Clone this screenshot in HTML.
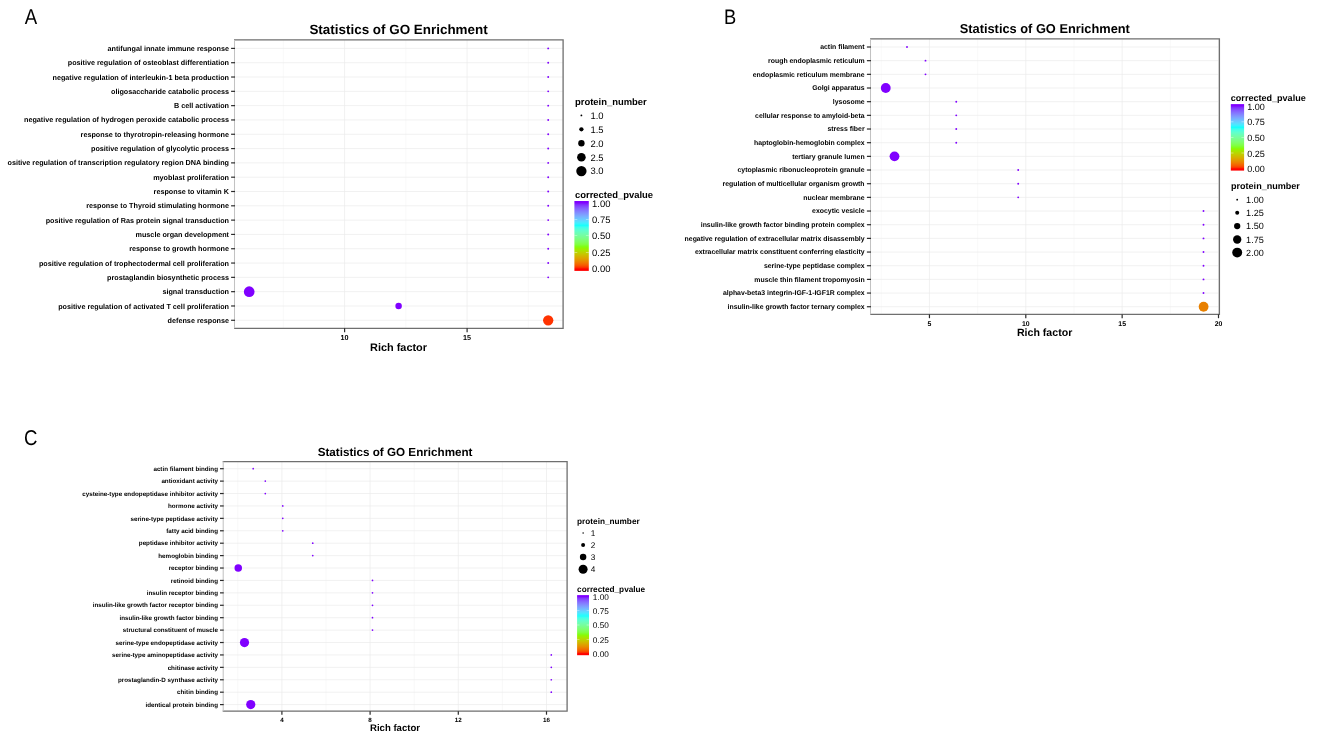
<!DOCTYPE html>
<html lang="en"><head><meta charset="utf-8"><title>Statistics of GO Enrichment</title>
<style>
html,body{margin:0;padding:0;background:#fff;}
body{width:1319px;height:748px;overflow:hidden;}
svg{display:block;filter:blur(0.32px);}
text{font-family:"Liberation Sans",Arial,Helvetica,sans-serif;fill:#000;text-rendering:geometricPrecision;}
.b{font-weight:bold;}
.ax{font-weight:bold;}
.lg{fill:#000;}
</style></head><body>
<svg width="1319" height="748" viewBox="0 0 1319 748">
<defs>
<linearGradient id="rb" x1="0" y1="1" x2="0" y2="0">
<stop offset="0.0000" stop-color="#FF0000"/>
<stop offset="0.0417" stop-color="#F85000"/>
<stop offset="0.0833" stop-color="#F07300"/>
<stop offset="0.1250" stop-color="#E69000"/>
<stop offset="0.1667" stop-color="#DAA800"/>
<stop offset="0.2083" stop-color="#CBBF00"/>
<stop offset="0.2500" stop-color="#B9D500"/>
<stop offset="0.2917" stop-color="#A1EA00"/>
<stop offset="0.3333" stop-color="#80FF00"/>
<stop offset="0.3750" stop-color="#81FF44"/>
<stop offset="0.4167" stop-color="#7FFF66"/>
<stop offset="0.4583" stop-color="#7CFE82"/>
<stop offset="0.5000" stop-color="#76FE9C"/>
<stop offset="0.5417" stop-color="#6DFEB5"/>
<stop offset="0.5833" stop-color="#5EFFCE"/>
<stop offset="0.6250" stop-color="#47FFE7"/>
<stop offset="0.6667" stop-color="#00FFFF"/>
<stop offset="0.7083" stop-color="#4EE6FF"/>
<stop offset="0.7500" stop-color="#67CEFF"/>
<stop offset="0.7917" stop-color="#76B5FF"/>
<stop offset="0.8333" stop-color="#7F9BFF"/>
<stop offset="0.8750" stop-color="#8381FF"/>
<stop offset="0.9167" stop-color="#8564FF"/>
<stop offset="0.9583" stop-color="#8443FF"/>
<stop offset="1.0000" stop-color="#8000FF"/>
</linearGradient></defs>
<rect x="0" y="0" width="1319" height="748" fill="#fff"/>
<g id="panelA">
<text transform="translate(24.80,23.80) scale(0.87,1)" font-size="21.4">A</text>
<text class="b" x="398.55" y="33.70" font-size="13.43" text-anchor="middle">Statistics of GO Enrichment</text>
<line x1="283.35" y1="39.90" x2="283.35" y2="328.30" stroke="#f7f7f7" stroke-width="0.7"/><line x1="405.85" y1="39.90" x2="405.85" y2="328.30" stroke="#f7f7f7" stroke-width="0.7"/><line x1="528.35" y1="39.90" x2="528.35" y2="328.30" stroke="#f7f7f7" stroke-width="0.7"/><line x1="234.50" y1="48.40" x2="563.10" y2="48.40" stroke="#ebebeb" stroke-width="0.7"/><line x1="234.50" y1="62.71" x2="563.10" y2="62.71" stroke="#ebebeb" stroke-width="0.7"/><line x1="234.50" y1="77.02" x2="563.10" y2="77.02" stroke="#ebebeb" stroke-width="0.7"/><line x1="234.50" y1="91.33" x2="563.10" y2="91.33" stroke="#ebebeb" stroke-width="0.7"/><line x1="234.50" y1="105.64" x2="563.10" y2="105.64" stroke="#ebebeb" stroke-width="0.7"/><line x1="234.50" y1="119.95" x2="563.10" y2="119.95" stroke="#ebebeb" stroke-width="0.7"/><line x1="234.50" y1="134.26" x2="563.10" y2="134.26" stroke="#ebebeb" stroke-width="0.7"/><line x1="234.50" y1="148.57" x2="563.10" y2="148.57" stroke="#ebebeb" stroke-width="0.7"/><line x1="234.50" y1="162.88" x2="563.10" y2="162.88" stroke="#ebebeb" stroke-width="0.7"/><line x1="234.50" y1="177.19" x2="563.10" y2="177.19" stroke="#ebebeb" stroke-width="0.7"/><line x1="234.50" y1="191.50" x2="563.10" y2="191.50" stroke="#ebebeb" stroke-width="0.7"/><line x1="234.50" y1="205.81" x2="563.10" y2="205.81" stroke="#ebebeb" stroke-width="0.7"/><line x1="234.50" y1="220.12" x2="563.10" y2="220.12" stroke="#ebebeb" stroke-width="0.7"/><line x1="234.50" y1="234.43" x2="563.10" y2="234.43" stroke="#ebebeb" stroke-width="0.7"/><line x1="234.50" y1="248.74" x2="563.10" y2="248.74" stroke="#ebebeb" stroke-width="0.7"/><line x1="234.50" y1="263.05" x2="563.10" y2="263.05" stroke="#ebebeb" stroke-width="0.7"/><line x1="234.50" y1="277.36" x2="563.10" y2="277.36" stroke="#ebebeb" stroke-width="0.7"/><line x1="234.50" y1="291.67" x2="563.10" y2="291.67" stroke="#ebebeb" stroke-width="0.7"/><line x1="234.50" y1="305.98" x2="563.10" y2="305.98" stroke="#ebebeb" stroke-width="0.7"/><line x1="234.50" y1="320.29" x2="563.10" y2="320.29" stroke="#ebebeb" stroke-width="0.7"/><line x1="344.60" y1="39.90" x2="344.60" y2="328.30" stroke="#ebebeb" stroke-width="0.7"/><line x1="467.10" y1="39.90" x2="467.10" y2="328.30" stroke="#ebebeb" stroke-width="0.7"/>
<circle cx="548.20" cy="48.40" r="0.95" fill="#8000FF"/><circle cx="548.20" cy="62.71" r="0.95" fill="#8000FF"/><circle cx="548.20" cy="77.02" r="0.95" fill="#8000FF"/><circle cx="548.20" cy="91.33" r="0.95" fill="#8000FF"/><circle cx="548.20" cy="105.64" r="0.95" fill="#8000FF"/><circle cx="548.20" cy="119.95" r="0.95" fill="#8000FF"/><circle cx="548.20" cy="134.26" r="0.95" fill="#8000FF"/><circle cx="548.20" cy="148.57" r="0.95" fill="#8000FF"/><circle cx="548.20" cy="162.88" r="0.95" fill="#8000FF"/><circle cx="548.20" cy="177.19" r="0.95" fill="#8000FF"/><circle cx="548.20" cy="191.50" r="0.95" fill="#8000FF"/><circle cx="548.20" cy="205.81" r="0.95" fill="#8000FF"/><circle cx="548.20" cy="220.12" r="0.95" fill="#8000FF"/><circle cx="548.20" cy="234.43" r="0.95" fill="#8000FF"/><circle cx="548.20" cy="248.74" r="0.95" fill="#8000FF"/><circle cx="548.20" cy="263.05" r="0.95" fill="#8000FF"/><circle cx="548.20" cy="277.36" r="0.95" fill="#8000FF"/><circle cx="249.20" cy="291.67" r="5.35" fill="#8000FF"/><circle cx="398.60" cy="305.98" r="3.25" fill="#8000FF"/><circle cx="548.20" cy="320.29" r="5.15" fill="#FF3300"/>
<path d="M234.00 39.90H563.10V328.30H234.00" fill="none" stroke="#6f6f6f" stroke-width="1.3"/>
<line x1="234.50" y1="39.90" x2="234.50" y2="328.30" stroke="#c2c2c2" stroke-width="1.05"/>
<line x1="231.10" y1="48.40" x2="235.00" y2="48.40" stroke="#2a2a2a" stroke-width="1.2"/><text class="ax" x="229.00" y="50.93" font-size="7.22" text-anchor="end">antifungal innate immune response</text><line x1="231.10" y1="62.71" x2="235.00" y2="62.71" stroke="#2a2a2a" stroke-width="1.2"/><text class="ax" x="229.00" y="65.24" font-size="7.22" text-anchor="end">positive regulation of osteoblast differentiation</text><line x1="231.10" y1="77.02" x2="235.00" y2="77.02" stroke="#2a2a2a" stroke-width="1.2"/><text class="ax" x="229.00" y="79.55" font-size="7.22" text-anchor="end">negative regulation of interleukin-1 beta production</text><line x1="231.10" y1="91.33" x2="235.00" y2="91.33" stroke="#2a2a2a" stroke-width="1.2"/><text class="ax" x="229.00" y="93.86" font-size="7.22" text-anchor="end">oligosaccharide catabolic process</text><line x1="231.10" y1="105.64" x2="235.00" y2="105.64" stroke="#2a2a2a" stroke-width="1.2"/><text class="ax" x="229.00" y="108.17" font-size="7.22" text-anchor="end">B cell activation</text><line x1="231.10" y1="119.95" x2="235.00" y2="119.95" stroke="#2a2a2a" stroke-width="1.2"/><text class="ax" x="229.00" y="122.48" font-size="7.22" text-anchor="end">negative regulation of hydrogen peroxide catabolic process</text><line x1="231.10" y1="134.26" x2="235.00" y2="134.26" stroke="#2a2a2a" stroke-width="1.2"/><text class="ax" x="229.00" y="136.79" font-size="7.22" text-anchor="end">response to thyrotropin-releasing hormone</text><line x1="231.10" y1="148.57" x2="235.00" y2="148.57" stroke="#2a2a2a" stroke-width="1.2"/><text class="ax" x="229.00" y="151.10" font-size="7.22" text-anchor="end">positive regulation of glycolytic process</text><line x1="231.10" y1="162.88" x2="235.00" y2="162.88" stroke="#2a2a2a" stroke-width="1.2"/><text class="ax" x="229.00" y="165.41" font-size="7.22" text-anchor="end">ositive regulation of transcription regulatory region DNA binding</text><line x1="231.10" y1="177.19" x2="235.00" y2="177.19" stroke="#2a2a2a" stroke-width="1.2"/><text class="ax" x="229.00" y="179.72" font-size="7.22" text-anchor="end">myoblast proliferation</text><line x1="231.10" y1="191.50" x2="235.00" y2="191.50" stroke="#2a2a2a" stroke-width="1.2"/><text class="ax" x="229.00" y="194.03" font-size="7.22" text-anchor="end">response to vitamin K</text><line x1="231.10" y1="205.81" x2="235.00" y2="205.81" stroke="#2a2a2a" stroke-width="1.2"/><text class="ax" x="229.00" y="208.34" font-size="7.22" text-anchor="end">response to Thyroid stimulating hormone</text><line x1="231.10" y1="220.12" x2="235.00" y2="220.12" stroke="#2a2a2a" stroke-width="1.2"/><text class="ax" x="229.00" y="222.65" font-size="7.22" text-anchor="end">positive regulation of Ras protein signal transduction</text><line x1="231.10" y1="234.43" x2="235.00" y2="234.43" stroke="#2a2a2a" stroke-width="1.2"/><text class="ax" x="229.00" y="236.96" font-size="7.22" text-anchor="end">muscle organ development</text><line x1="231.10" y1="248.74" x2="235.00" y2="248.74" stroke="#2a2a2a" stroke-width="1.2"/><text class="ax" x="229.00" y="251.27" font-size="7.22" text-anchor="end">response to growth hormone</text><line x1="231.10" y1="263.05" x2="235.00" y2="263.05" stroke="#2a2a2a" stroke-width="1.2"/><text class="ax" x="229.00" y="265.58" font-size="7.22" text-anchor="end">positive regulation of trophectodermal cell proliferation</text><line x1="231.10" y1="277.36" x2="235.00" y2="277.36" stroke="#2a2a2a" stroke-width="1.2"/><text class="ax" x="229.00" y="279.89" font-size="7.22" text-anchor="end">prostaglandin biosynthetic process</text><line x1="231.10" y1="291.67" x2="235.00" y2="291.67" stroke="#2a2a2a" stroke-width="1.2"/><text class="ax" x="229.00" y="294.20" font-size="7.22" text-anchor="end">signal transduction</text><line x1="231.10" y1="305.98" x2="235.00" y2="305.98" stroke="#2a2a2a" stroke-width="1.2"/><text class="ax" x="229.00" y="308.51" font-size="7.22" text-anchor="end">positive regulation of activated T cell proliferation</text><line x1="231.10" y1="320.29" x2="235.00" y2="320.29" stroke="#2a2a2a" stroke-width="1.2"/><text class="ax" x="229.00" y="322.82" font-size="7.22" text-anchor="end">defense response</text>
<line x1="344.60" y1="328.30" x2="344.60" y2="332.30" stroke="#2a2a2a" stroke-width="1.2"/><text class="ax" x="344.60" y="340.00" font-size="7.22" text-anchor="middle">10</text><line x1="467.10" y1="328.30" x2="467.10" y2="332.30" stroke="#2a2a2a" stroke-width="1.2"/><text class="ax" x="467.10" y="340.00" font-size="7.22" text-anchor="middle">15</text>
<text class="b" x="398.55" y="351.10" font-size="10.90" text-anchor="middle">Rich factor</text>
<text class="b" x="575.00" y="104.70" font-size="9.43">protein_number</text>
<circle cx="581.40" cy="115.40" r="0.90" fill="#000"/><text x="590.40" y="118.79" font-size="9.43">1.0</text>
<circle cx="581.40" cy="129.30" r="2.15" fill="#000"/><text x="590.40" y="132.69" font-size="9.43">1.5</text>
<circle cx="581.40" cy="143.20" r="3.20" fill="#000"/><text x="590.40" y="146.59" font-size="9.43">2.0</text>
<circle cx="581.40" cy="157.20" r="4.30" fill="#000"/><text x="590.40" y="160.59" font-size="9.43">2.5</text>
<circle cx="581.40" cy="171.10" r="5.15" fill="#000"/><text x="590.40" y="174.49" font-size="9.43">3.0</text>
<text class="b" x="575.00" y="197.60" font-size="9.43">corrected_pvalue</text>
<linearGradient id="rbA" x1="0" y1="0" x2="0" y2="1"><stop offset="0.0000" stop-color="#8000FF"/><stop offset="0.0250" stop-color="#8000FF"/><stop offset="0.0500" stop-color="#822AFF"/><stop offset="0.0750" stop-color="#8446FF"/><stop offset="0.1000" stop-color="#855CFF"/><stop offset="0.1250" stop-color="#856FFF"/><stop offset="0.1500" stop-color="#8381FF"/><stop offset="0.1750" stop-color="#8192FF"/><stop offset="0.2000" stop-color="#7DA3FF"/><stop offset="0.2250" stop-color="#77B3FF"/><stop offset="0.2500" stop-color="#6EC3FF"/><stop offset="0.2750" stop-color="#63D3FF"/><stop offset="0.3000" stop-color="#53E3FF"/><stop offset="0.3250" stop-color="#39F3FF"/><stop offset="0.3500" stop-color="#19FFFB"/><stop offset="0.3750" stop-color="#3FFFEC"/><stop offset="0.4000" stop-color="#52FFDC"/><stop offset="0.4250" stop-color="#60FFCC"/><stop offset="0.4500" stop-color="#69FEBD"/><stop offset="0.4750" stop-color="#71FEAD"/><stop offset="0.5000" stop-color="#76FE9C"/><stop offset="0.5250" stop-color="#7AFE8C"/><stop offset="0.5500" stop-color="#7DFE7A"/><stop offset="0.5750" stop-color="#7FFF68"/><stop offset="0.6000" stop-color="#80FF54"/><stop offset="0.6250" stop-color="#81FF3C"/><stop offset="0.6500" stop-color="#80FF15"/><stop offset="0.6750" stop-color="#92F500"/><stop offset="0.7000" stop-color="#A5E800"/><stop offset="0.7250" stop-color="#B4DA00"/><stop offset="0.7500" stop-color="#C1CC00"/><stop offset="0.7750" stop-color="#CCBE00"/><stop offset="0.8000" stop-color="#D6AF00"/><stop offset="0.8250" stop-color="#DFA000"/><stop offset="0.8500" stop-color="#E69000"/><stop offset="0.8750" stop-color="#ED7E00"/><stop offset="0.9000" stop-color="#F26B00"/><stop offset="0.9250" stop-color="#F85400"/><stop offset="0.9500" stop-color="#FC3400"/><stop offset="0.9750" stop-color="#FF0000"/><stop offset="1.0000" stop-color="#FF0000"/></linearGradient>
<rect x="574.40" y="201.00" width="14.40" height="69.90" fill="url(#rbA)"/>
<text x="592.10" y="207.19" font-size="9.43">1.00</text>
<line x1="574.40" y1="219.40" x2="577.28" y2="219.40" stroke="#fff" stroke-width="0.5" opacity="0.8"/>
<line x1="585.92" y1="219.40" x2="588.80" y2="219.40" stroke="#fff" stroke-width="0.5" opacity="0.8"/>
<text x="592.10" y="223.19" font-size="9.43">0.75</text>
<line x1="574.40" y1="235.70" x2="577.28" y2="235.70" stroke="#fff" stroke-width="0.5" opacity="0.8"/>
<line x1="585.92" y1="235.70" x2="588.80" y2="235.70" stroke="#fff" stroke-width="0.5" opacity="0.8"/>
<text x="592.10" y="239.49" font-size="9.43">0.50</text>
<line x1="574.40" y1="252.50" x2="577.28" y2="252.50" stroke="#fff" stroke-width="0.5" opacity="0.8"/>
<line x1="585.92" y1="252.50" x2="588.80" y2="252.50" stroke="#fff" stroke-width="0.5" opacity="0.8"/>
<text x="592.10" y="256.29" font-size="9.43">0.25</text>
<text x="592.10" y="272.29" font-size="9.43">0.00</text>
</g>
<g id="panelB">
<text transform="translate(724.00,23.80) scale(0.87,1)" font-size="21.0">B</text>
<text class="b" x="1044.80" y="32.70" font-size="12.82" text-anchor="middle">Statistics of GO Enrichment</text>
<line x1="881.28" y1="38.80" x2="881.28" y2="314.40" stroke="#f7f7f7" stroke-width="0.7"/><line x1="977.62" y1="38.80" x2="977.62" y2="314.40" stroke="#f7f7f7" stroke-width="0.7"/><line x1="1073.98" y1="38.80" x2="1073.98" y2="314.40" stroke="#f7f7f7" stroke-width="0.7"/><line x1="1170.33" y1="38.80" x2="1170.33" y2="314.40" stroke="#f7f7f7" stroke-width="0.7"/><line x1="870.50" y1="47.00" x2="1219.40" y2="47.00" stroke="#ebebeb" stroke-width="0.7"/><line x1="870.50" y1="60.67" x2="1219.40" y2="60.67" stroke="#ebebeb" stroke-width="0.7"/><line x1="870.50" y1="74.34" x2="1219.40" y2="74.34" stroke="#ebebeb" stroke-width="0.7"/><line x1="870.50" y1="88.01" x2="1219.40" y2="88.01" stroke="#ebebeb" stroke-width="0.7"/><line x1="870.50" y1="101.68" x2="1219.40" y2="101.68" stroke="#ebebeb" stroke-width="0.7"/><line x1="870.50" y1="115.35" x2="1219.40" y2="115.35" stroke="#ebebeb" stroke-width="0.7"/><line x1="870.50" y1="129.02" x2="1219.40" y2="129.02" stroke="#ebebeb" stroke-width="0.7"/><line x1="870.50" y1="142.69" x2="1219.40" y2="142.69" stroke="#ebebeb" stroke-width="0.7"/><line x1="870.50" y1="156.36" x2="1219.40" y2="156.36" stroke="#ebebeb" stroke-width="0.7"/><line x1="870.50" y1="170.03" x2="1219.40" y2="170.03" stroke="#ebebeb" stroke-width="0.7"/><line x1="870.50" y1="183.70" x2="1219.40" y2="183.70" stroke="#ebebeb" stroke-width="0.7"/><line x1="870.50" y1="197.37" x2="1219.40" y2="197.37" stroke="#ebebeb" stroke-width="0.7"/><line x1="870.50" y1="211.04" x2="1219.40" y2="211.04" stroke="#ebebeb" stroke-width="0.7"/><line x1="870.50" y1="224.71" x2="1219.40" y2="224.71" stroke="#ebebeb" stroke-width="0.7"/><line x1="870.50" y1="238.38" x2="1219.40" y2="238.38" stroke="#ebebeb" stroke-width="0.7"/><line x1="870.50" y1="252.05" x2="1219.40" y2="252.05" stroke="#ebebeb" stroke-width="0.7"/><line x1="870.50" y1="265.72" x2="1219.40" y2="265.72" stroke="#ebebeb" stroke-width="0.7"/><line x1="870.50" y1="279.39" x2="1219.40" y2="279.39" stroke="#ebebeb" stroke-width="0.7"/><line x1="870.50" y1="293.06" x2="1219.40" y2="293.06" stroke="#ebebeb" stroke-width="0.7"/><line x1="870.50" y1="306.73" x2="1219.40" y2="306.73" stroke="#ebebeb" stroke-width="0.7"/><line x1="929.45" y1="38.80" x2="929.45" y2="314.40" stroke="#ebebeb" stroke-width="0.7"/><line x1="1025.80" y1="38.80" x2="1025.80" y2="314.40" stroke="#ebebeb" stroke-width="0.7"/><line x1="1122.15" y1="38.80" x2="1122.15" y2="314.40" stroke="#ebebeb" stroke-width="0.7"/><line x1="1218.50" y1="38.80" x2="1218.50" y2="314.40" stroke="#ebebeb" stroke-width="0.7"/>
<circle cx="907.00" cy="47.00" r="0.95" fill="#8000FF"/><circle cx="925.50" cy="60.67" r="0.95" fill="#8000FF"/><circle cx="925.50" cy="74.34" r="0.95" fill="#8000FF"/><circle cx="885.75" cy="88.01" r="4.90" fill="#8000FF"/><circle cx="956.25" cy="101.68" r="0.95" fill="#8000FF"/><circle cx="956.25" cy="115.35" r="0.95" fill="#8000FF"/><circle cx="956.25" cy="129.02" r="0.95" fill="#8000FF"/><circle cx="956.25" cy="142.69" r="0.95" fill="#8000FF"/><circle cx="894.50" cy="156.36" r="4.90" fill="#8000FF"/><circle cx="1018.20" cy="170.03" r="0.95" fill="#8000FF"/><circle cx="1018.20" cy="183.70" r="0.95" fill="#8000FF"/><circle cx="1018.20" cy="197.37" r="0.95" fill="#8000FF"/><circle cx="1203.50" cy="211.04" r="0.95" fill="#8000FF"/><circle cx="1203.50" cy="224.71" r="0.95" fill="#8000FF"/><circle cx="1203.50" cy="238.38" r="0.95" fill="#8000FF"/><circle cx="1203.50" cy="252.05" r="0.95" fill="#8000FF"/><circle cx="1203.50" cy="265.72" r="0.95" fill="#8000FF"/><circle cx="1203.50" cy="279.39" r="0.95" fill="#8000FF"/><circle cx="1203.50" cy="293.06" r="0.95" fill="#8000FF"/><circle cx="1203.60" cy="306.73" r="4.90" fill="#E88000"/>
<path d="M870.00 38.80H1219.40V314.40H870.00" fill="none" stroke="#6f6f6f" stroke-width="1.3"/>
<line x1="870.50" y1="38.80" x2="870.50" y2="314.40" stroke="#c2c2c2" stroke-width="1.05"/>
<line x1="866.90" y1="47.00" x2="871.00" y2="47.00" stroke="#2a2a2a" stroke-width="1.2"/><text class="ax" x="864.60" y="49.41" font-size="6.90" text-anchor="end">actin filament</text><line x1="866.90" y1="60.67" x2="871.00" y2="60.67" stroke="#2a2a2a" stroke-width="1.2"/><text class="ax" x="864.60" y="63.09" font-size="6.90" text-anchor="end">rough endoplasmic reticulum</text><line x1="866.90" y1="74.34" x2="871.00" y2="74.34" stroke="#2a2a2a" stroke-width="1.2"/><text class="ax" x="864.60" y="76.76" font-size="6.90" text-anchor="end">endoplasmic reticulum membrane</text><line x1="866.90" y1="88.01" x2="871.00" y2="88.01" stroke="#2a2a2a" stroke-width="1.2"/><text class="ax" x="864.60" y="90.42" font-size="6.90" text-anchor="end">Golgi apparatus</text><line x1="866.90" y1="101.68" x2="871.00" y2="101.68" stroke="#2a2a2a" stroke-width="1.2"/><text class="ax" x="864.60" y="104.10" font-size="6.90" text-anchor="end">lysosome</text><line x1="866.90" y1="115.35" x2="871.00" y2="115.35" stroke="#2a2a2a" stroke-width="1.2"/><text class="ax" x="864.60" y="117.77" font-size="6.90" text-anchor="end">cellular response to amyloid-beta</text><line x1="866.90" y1="129.02" x2="871.00" y2="129.02" stroke="#2a2a2a" stroke-width="1.2"/><text class="ax" x="864.60" y="131.43" font-size="6.90" text-anchor="end">stress fiber</text><line x1="866.90" y1="142.69" x2="871.00" y2="142.69" stroke="#2a2a2a" stroke-width="1.2"/><text class="ax" x="864.60" y="145.10" font-size="6.90" text-anchor="end">haptoglobin-hemoglobin complex</text><line x1="866.90" y1="156.36" x2="871.00" y2="156.36" stroke="#2a2a2a" stroke-width="1.2"/><text class="ax" x="864.60" y="158.78" font-size="6.90" text-anchor="end">tertiary granule lumen</text><line x1="866.90" y1="170.03" x2="871.00" y2="170.03" stroke="#2a2a2a" stroke-width="1.2"/><text class="ax" x="864.60" y="172.44" font-size="6.90" text-anchor="end">cytoplasmic ribonucleoprotein granule</text><line x1="866.90" y1="183.70" x2="871.00" y2="183.70" stroke="#2a2a2a" stroke-width="1.2"/><text class="ax" x="864.60" y="186.11" font-size="6.90" text-anchor="end">regulation of multicellular organism growth</text><line x1="866.90" y1="197.37" x2="871.00" y2="197.37" stroke="#2a2a2a" stroke-width="1.2"/><text class="ax" x="864.60" y="199.78" font-size="6.90" text-anchor="end">nuclear membrane</text><line x1="866.90" y1="211.04" x2="871.00" y2="211.04" stroke="#2a2a2a" stroke-width="1.2"/><text class="ax" x="864.60" y="213.45" font-size="6.90" text-anchor="end">exocytic vesicle</text><line x1="866.90" y1="224.71" x2="871.00" y2="224.71" stroke="#2a2a2a" stroke-width="1.2"/><text class="ax" x="864.60" y="227.12" font-size="6.90" text-anchor="end">insulin-like growth factor binding protein complex</text><line x1="866.90" y1="238.38" x2="871.00" y2="238.38" stroke="#2a2a2a" stroke-width="1.2"/><text class="ax" x="864.60" y="240.79" font-size="6.90" text-anchor="end">negative regulation of extracellular matrix disassembly</text><line x1="866.90" y1="252.05" x2="871.00" y2="252.05" stroke="#2a2a2a" stroke-width="1.2"/><text class="ax" x="864.60" y="254.47" font-size="6.90" text-anchor="end">extracellular matrix constituent conferring elasticity</text><line x1="866.90" y1="265.72" x2="871.00" y2="265.72" stroke="#2a2a2a" stroke-width="1.2"/><text class="ax" x="864.60" y="268.14" font-size="6.90" text-anchor="end">serine-type peptidase complex</text><line x1="866.90" y1="279.39" x2="871.00" y2="279.39" stroke="#2a2a2a" stroke-width="1.2"/><text class="ax" x="864.60" y="281.81" font-size="6.90" text-anchor="end">muscle thin filament tropomyosin</text><line x1="866.90" y1="293.06" x2="871.00" y2="293.06" stroke="#2a2a2a" stroke-width="1.2"/><text class="ax" x="864.60" y="295.48" font-size="6.90" text-anchor="end">alphav-beta3 integrin-IGF-1-IGF1R complex</text><line x1="866.90" y1="306.73" x2="871.00" y2="306.73" stroke="#2a2a2a" stroke-width="1.2"/><text class="ax" x="864.60" y="309.15" font-size="6.90" text-anchor="end">insulin-like growth factor ternary complex</text>
<line x1="929.45" y1="314.40" x2="929.45" y2="318.20" stroke="#2a2a2a" stroke-width="1.2"/><text class="ax" x="929.45" y="325.68" font-size="6.90" text-anchor="middle">5</text><line x1="1025.80" y1="314.40" x2="1025.80" y2="318.20" stroke="#2a2a2a" stroke-width="1.2"/><text class="ax" x="1025.80" y="325.68" font-size="6.90" text-anchor="middle">10</text><line x1="1122.15" y1="314.40" x2="1122.15" y2="318.20" stroke="#2a2a2a" stroke-width="1.2"/><text class="ax" x="1122.15" y="325.68" font-size="6.90" text-anchor="middle">15</text><line x1="1218.50" y1="314.40" x2="1218.50" y2="318.20" stroke="#2a2a2a" stroke-width="1.2"/><text class="ax" x="1218.50" y="325.68" font-size="6.90" text-anchor="middle">20</text>
<text class="b" x="1044.60" y="335.80" font-size="10.60" text-anchor="middle">Rich factor</text>
<text class="b" x="1230.80" y="100.80" font-size="9.05">corrected_pvalue</text>
<linearGradient id="rbB" x1="0" y1="0" x2="0" y2="1"><stop offset="0.0000" stop-color="#8000FF"/><stop offset="0.0250" stop-color="#8000FF"/><stop offset="0.0500" stop-color="#822BFF"/><stop offset="0.0750" stop-color="#8447FF"/><stop offset="0.1000" stop-color="#855CFF"/><stop offset="0.1250" stop-color="#856FFF"/><stop offset="0.1500" stop-color="#8381FF"/><stop offset="0.1750" stop-color="#8192FF"/><stop offset="0.2000" stop-color="#7DA3FF"/><stop offset="0.2250" stop-color="#77B3FF"/><stop offset="0.2500" stop-color="#6FC3FF"/><stop offset="0.2750" stop-color="#64D2FF"/><stop offset="0.3000" stop-color="#54E2FF"/><stop offset="0.3250" stop-color="#3AF2FF"/><stop offset="0.3500" stop-color="#14FFFC"/><stop offset="0.3750" stop-color="#3DFFED"/><stop offset="0.4000" stop-color="#51FFDD"/><stop offset="0.4250" stop-color="#5FFFCE"/><stop offset="0.4500" stop-color="#68FEBE"/><stop offset="0.4750" stop-color="#70FEAE"/><stop offset="0.5000" stop-color="#76FE9E"/><stop offset="0.5250" stop-color="#7AFE8E"/><stop offset="0.5500" stop-color="#7DFE7D"/><stop offset="0.5750" stop-color="#7FFF6B"/><stop offset="0.6000" stop-color="#80FF57"/><stop offset="0.6250" stop-color="#81FF40"/><stop offset="0.6500" stop-color="#80FF1F"/><stop offset="0.6750" stop-color="#8EF700"/><stop offset="0.7000" stop-color="#A2EA00"/><stop offset="0.7250" stop-color="#B1DD00"/><stop offset="0.7500" stop-color="#BFCF00"/><stop offset="0.7750" stop-color="#CAC100"/><stop offset="0.8000" stop-color="#D4B300"/><stop offset="0.8250" stop-color="#DDA400"/><stop offset="0.8500" stop-color="#E49400"/><stop offset="0.8750" stop-color="#EB8300"/><stop offset="0.9000" stop-color="#F17000"/><stop offset="0.9250" stop-color="#F65B00"/><stop offset="0.9500" stop-color="#FB3F00"/><stop offset="0.9750" stop-color="#FF0000"/><stop offset="1.0000" stop-color="#FF0000"/></linearGradient>
<rect x="1230.80" y="104.10" width="13.30" height="66.50" fill="url(#rbB)"/>
<text x="1247.30" y="109.96" font-size="9.05">1.00</text>
<line x1="1230.80" y1="121.80" x2="1233.46" y2="121.80" stroke="#fff" stroke-width="0.5" opacity="0.8"/>
<line x1="1241.44" y1="121.80" x2="1244.10" y2="121.80" stroke="#fff" stroke-width="0.5" opacity="0.8"/>
<text x="1247.30" y="125.46" font-size="9.05">0.75</text>
<line x1="1230.80" y1="137.40" x2="1233.46" y2="137.40" stroke="#fff" stroke-width="0.5" opacity="0.8"/>
<line x1="1241.44" y1="137.40" x2="1244.10" y2="137.40" stroke="#fff" stroke-width="0.5" opacity="0.8"/>
<text x="1247.30" y="141.06" font-size="9.05">0.50</text>
<line x1="1230.80" y1="153.00" x2="1233.46" y2="153.00" stroke="#fff" stroke-width="0.5" opacity="0.8"/>
<line x1="1241.44" y1="153.00" x2="1244.10" y2="153.00" stroke="#fff" stroke-width="0.5" opacity="0.8"/>
<text x="1247.30" y="156.66" font-size="9.05">0.25</text>
<text x="1247.30" y="172.46" font-size="9.05">0.00</text>
<text class="b" x="1231.00" y="189.40" font-size="9.05">protein_number</text>
<circle cx="1237.20" cy="199.70" r="0.90" fill="#000"/><text x="1246.10" y="202.96" font-size="9.05">1.00</text>
<circle cx="1237.20" cy="212.80" r="2.00" fill="#000"/><text x="1246.10" y="216.06" font-size="9.05">1.25</text>
<circle cx="1237.20" cy="226.10" r="3.15" fill="#000"/><text x="1246.10" y="229.36" font-size="9.05">1.50</text>
<circle cx="1237.20" cy="239.50" r="4.15" fill="#000"/><text x="1246.10" y="242.76" font-size="9.05">1.75</text>
<circle cx="1237.20" cy="252.60" r="4.95" fill="#000"/><text x="1246.10" y="255.86" font-size="9.05">2.00</text>
</g>
<g id="panelC">
<text transform="translate(24.00,445.20) scale(0.87,1)" font-size="21.4">C</text>
<text class="b" x="395.10" y="456.40" font-size="11.67" text-anchor="middle">Statistics of GO Enrichment</text>
<line x1="237.80" y1="461.60" x2="237.80" y2="711.20" stroke="#f7f7f7" stroke-width="0.7"/><line x1="326.00" y1="461.60" x2="326.00" y2="711.20" stroke="#f7f7f7" stroke-width="0.7"/><line x1="414.20" y1="461.60" x2="414.20" y2="711.20" stroke="#f7f7f7" stroke-width="0.7"/><line x1="502.40" y1="461.60" x2="502.40" y2="711.20" stroke="#f7f7f7" stroke-width="0.7"/><line x1="223.20" y1="468.70" x2="567.10" y2="468.70" stroke="#ebebeb" stroke-width="0.7"/><line x1="223.20" y1="481.12" x2="567.10" y2="481.12" stroke="#ebebeb" stroke-width="0.7"/><line x1="223.20" y1="493.53" x2="567.10" y2="493.53" stroke="#ebebeb" stroke-width="0.7"/><line x1="223.20" y1="505.95" x2="567.10" y2="505.95" stroke="#ebebeb" stroke-width="0.7"/><line x1="223.20" y1="518.36" x2="567.10" y2="518.36" stroke="#ebebeb" stroke-width="0.7"/><line x1="223.20" y1="530.78" x2="567.10" y2="530.78" stroke="#ebebeb" stroke-width="0.7"/><line x1="223.20" y1="543.20" x2="567.10" y2="543.20" stroke="#ebebeb" stroke-width="0.7"/><line x1="223.20" y1="555.61" x2="567.10" y2="555.61" stroke="#ebebeb" stroke-width="0.7"/><line x1="223.20" y1="568.03" x2="567.10" y2="568.03" stroke="#ebebeb" stroke-width="0.7"/><line x1="223.20" y1="580.44" x2="567.10" y2="580.44" stroke="#ebebeb" stroke-width="0.7"/><line x1="223.20" y1="592.86" x2="567.10" y2="592.86" stroke="#ebebeb" stroke-width="0.7"/><line x1="223.20" y1="605.28" x2="567.10" y2="605.28" stroke="#ebebeb" stroke-width="0.7"/><line x1="223.20" y1="617.69" x2="567.10" y2="617.69" stroke="#ebebeb" stroke-width="0.7"/><line x1="223.20" y1="630.11" x2="567.10" y2="630.11" stroke="#ebebeb" stroke-width="0.7"/><line x1="223.20" y1="642.52" x2="567.10" y2="642.52" stroke="#ebebeb" stroke-width="0.7"/><line x1="223.20" y1="654.94" x2="567.10" y2="654.94" stroke="#ebebeb" stroke-width="0.7"/><line x1="223.20" y1="667.36" x2="567.10" y2="667.36" stroke="#ebebeb" stroke-width="0.7"/><line x1="223.20" y1="679.77" x2="567.10" y2="679.77" stroke="#ebebeb" stroke-width="0.7"/><line x1="223.20" y1="692.19" x2="567.10" y2="692.19" stroke="#ebebeb" stroke-width="0.7"/><line x1="223.20" y1="704.60" x2="567.10" y2="704.60" stroke="#ebebeb" stroke-width="0.7"/><line x1="281.90" y1="461.60" x2="281.90" y2="711.20" stroke="#ebebeb" stroke-width="0.7"/><line x1="370.10" y1="461.60" x2="370.10" y2="711.20" stroke="#ebebeb" stroke-width="0.7"/><line x1="458.30" y1="461.60" x2="458.30" y2="711.20" stroke="#ebebeb" stroke-width="0.7"/><line x1="546.50" y1="461.60" x2="546.50" y2="711.20" stroke="#ebebeb" stroke-width="0.7"/>
<circle cx="253.20" cy="468.70" r="0.85" fill="#8000FF"/><circle cx="265.30" cy="481.12" r="0.85" fill="#8000FF"/><circle cx="265.30" cy="493.53" r="0.85" fill="#8000FF"/><circle cx="282.75" cy="505.95" r="0.85" fill="#8000FF"/><circle cx="282.75" cy="518.36" r="0.85" fill="#8000FF"/><circle cx="282.75" cy="530.78" r="0.85" fill="#8000FF"/><circle cx="312.75" cy="543.20" r="0.85" fill="#8000FF"/><circle cx="312.75" cy="555.61" r="0.85" fill="#8000FF"/><circle cx="238.25" cy="568.03" r="3.75" fill="#8000FF"/><circle cx="372.50" cy="580.44" r="0.85" fill="#8000FF"/><circle cx="372.50" cy="592.86" r="0.85" fill="#8000FF"/><circle cx="372.50" cy="605.28" r="0.85" fill="#8000FF"/><circle cx="372.50" cy="617.69" r="0.85" fill="#8000FF"/><circle cx="372.50" cy="630.11" r="0.85" fill="#8000FF"/><circle cx="244.50" cy="642.52" r="4.62" fill="#8000FF"/><circle cx="551.30" cy="654.94" r="0.85" fill="#8000FF"/><circle cx="551.30" cy="667.36" r="0.85" fill="#8000FF"/><circle cx="551.30" cy="679.77" r="0.85" fill="#8000FF"/><circle cx="551.30" cy="692.19" r="0.85" fill="#8000FF"/><circle cx="250.75" cy="704.60" r="4.62" fill="#8000FF"/>
<path d="M222.70 461.60H567.10V711.20H222.70" fill="none" stroke="#6f6f6f" stroke-width="1.3"/>
<line x1="223.20" y1="461.60" x2="223.20" y2="711.20" stroke="#c2c2c2" stroke-width="1.05"/>
<line x1="220.00" y1="468.70" x2="223.70" y2="468.70" stroke="#2a2a2a" stroke-width="1.2"/><text class="ax" x="218.00" y="470.89" font-size="6.26" text-anchor="end">actin filament binding</text><line x1="220.00" y1="481.12" x2="223.70" y2="481.12" stroke="#2a2a2a" stroke-width="1.2"/><text class="ax" x="218.00" y="483.31" font-size="6.26" text-anchor="end">antioxidant activity</text><line x1="220.00" y1="493.53" x2="223.70" y2="493.53" stroke="#2a2a2a" stroke-width="1.2"/><text class="ax" x="218.00" y="495.72" font-size="6.26" text-anchor="end">cysteine-type endopeptidase inhibitor activity</text><line x1="220.00" y1="505.95" x2="223.70" y2="505.95" stroke="#2a2a2a" stroke-width="1.2"/><text class="ax" x="218.00" y="508.14" font-size="6.26" text-anchor="end">hormone activity</text><line x1="220.00" y1="518.36" x2="223.70" y2="518.36" stroke="#2a2a2a" stroke-width="1.2"/><text class="ax" x="218.00" y="520.56" font-size="6.26" text-anchor="end">serine-type peptidase activity</text><line x1="220.00" y1="530.78" x2="223.70" y2="530.78" stroke="#2a2a2a" stroke-width="1.2"/><text class="ax" x="218.00" y="532.97" font-size="6.26" text-anchor="end">fatty acid binding</text><line x1="220.00" y1="543.20" x2="223.70" y2="543.20" stroke="#2a2a2a" stroke-width="1.2"/><text class="ax" x="218.00" y="545.39" font-size="6.26" text-anchor="end">peptidase inhibitor activity</text><line x1="220.00" y1="555.61" x2="223.70" y2="555.61" stroke="#2a2a2a" stroke-width="1.2"/><text class="ax" x="218.00" y="557.80" font-size="6.26" text-anchor="end">hemoglobin binding</text><line x1="220.00" y1="568.03" x2="223.70" y2="568.03" stroke="#2a2a2a" stroke-width="1.2"/><text class="ax" x="218.00" y="570.22" font-size="6.26" text-anchor="end">receptor binding</text><line x1="220.00" y1="580.44" x2="223.70" y2="580.44" stroke="#2a2a2a" stroke-width="1.2"/><text class="ax" x="218.00" y="582.63" font-size="6.26" text-anchor="end">retinoid binding</text><line x1="220.00" y1="592.86" x2="223.70" y2="592.86" stroke="#2a2a2a" stroke-width="1.2"/><text class="ax" x="218.00" y="595.05" font-size="6.26" text-anchor="end">insulin receptor binding</text><line x1="220.00" y1="605.28" x2="223.70" y2="605.28" stroke="#2a2a2a" stroke-width="1.2"/><text class="ax" x="218.00" y="607.47" font-size="6.26" text-anchor="end">insulin-like growth factor receptor binding</text><line x1="220.00" y1="617.69" x2="223.70" y2="617.69" stroke="#2a2a2a" stroke-width="1.2"/><text class="ax" x="218.00" y="619.88" font-size="6.26" text-anchor="end">insulin-like growth factor binding</text><line x1="220.00" y1="630.11" x2="223.70" y2="630.11" stroke="#2a2a2a" stroke-width="1.2"/><text class="ax" x="218.00" y="632.30" font-size="6.26" text-anchor="end">structural constituent of muscle</text><line x1="220.00" y1="642.52" x2="223.70" y2="642.52" stroke="#2a2a2a" stroke-width="1.2"/><text class="ax" x="218.00" y="644.72" font-size="6.26" text-anchor="end">serine-type endopeptidase activity</text><line x1="220.00" y1="654.94" x2="223.70" y2="654.94" stroke="#2a2a2a" stroke-width="1.2"/><text class="ax" x="218.00" y="657.13" font-size="6.26" text-anchor="end">serine-type aminopeptidase activity</text><line x1="220.00" y1="667.36" x2="223.70" y2="667.36" stroke="#2a2a2a" stroke-width="1.2"/><text class="ax" x="218.00" y="669.55" font-size="6.26" text-anchor="end">chitinase activity</text><line x1="220.00" y1="679.77" x2="223.70" y2="679.77" stroke="#2a2a2a" stroke-width="1.2"/><text class="ax" x="218.00" y="681.96" font-size="6.26" text-anchor="end">prostaglandin-D synthase activity</text><line x1="220.00" y1="692.19" x2="223.70" y2="692.19" stroke="#2a2a2a" stroke-width="1.2"/><text class="ax" x="218.00" y="694.38" font-size="6.26" text-anchor="end">chitin binding</text><line x1="220.00" y1="704.60" x2="223.70" y2="704.60" stroke="#2a2a2a" stroke-width="1.2"/><text class="ax" x="218.00" y="706.80" font-size="6.26" text-anchor="end">identical protein binding</text>
<line x1="281.90" y1="711.20" x2="281.90" y2="714.70" stroke="#2a2a2a" stroke-width="1.2"/><text class="ax" x="281.90" y="721.55" font-size="6.26" text-anchor="middle">4</text><line x1="370.10" y1="711.20" x2="370.10" y2="714.70" stroke="#2a2a2a" stroke-width="1.2"/><text class="ax" x="370.10" y="721.55" font-size="6.26" text-anchor="middle">8</text><line x1="458.30" y1="711.20" x2="458.30" y2="714.70" stroke="#2a2a2a" stroke-width="1.2"/><text class="ax" x="458.30" y="721.55" font-size="6.26" text-anchor="middle">12</text><line x1="546.50" y1="711.20" x2="546.50" y2="714.70" stroke="#2a2a2a" stroke-width="1.2"/><text class="ax" x="546.50" y="721.55" font-size="6.26" text-anchor="middle">16</text>
<text class="b" x="395.00" y="730.50" font-size="9.57" text-anchor="middle">Rich factor</text>
<text class="b" x="577.10" y="523.70" font-size="8.22">protein_number</text>
<circle cx="583.10" cy="533.10" r="0.75" fill="#000"/><text x="590.70" y="536.06" font-size="8.22">1</text>
<circle cx="583.10" cy="545.10" r="2.00" fill="#000"/><text x="590.70" y="548.06" font-size="8.22">2</text>
<circle cx="583.10" cy="557.10" r="3.25" fill="#000"/><text x="590.70" y="560.06" font-size="8.22">3</text>
<circle cx="583.10" cy="569.20" r="4.50" fill="#000"/><text x="590.70" y="572.16" font-size="8.22">4</text>
<text class="b" x="577.10" y="591.90" font-size="8.22">corrected_pvalue</text>
<linearGradient id="rbC" x1="0" y1="0" x2="0" y2="1"><stop offset="0.0000" stop-color="#8000FF"/><stop offset="0.0250" stop-color="#8000FF"/><stop offset="0.0500" stop-color="#8333FF"/><stop offset="0.0750" stop-color="#844DFF"/><stop offset="0.1000" stop-color="#8561FF"/><stop offset="0.1250" stop-color="#8574FF"/><stop offset="0.1500" stop-color="#8385FF"/><stop offset="0.1750" stop-color="#8096FF"/><stop offset="0.2000" stop-color="#7CA6FF"/><stop offset="0.2250" stop-color="#75B6FF"/><stop offset="0.2500" stop-color="#6DC6FF"/><stop offset="0.2750" stop-color="#61D6FF"/><stop offset="0.3000" stop-color="#50E5FF"/><stop offset="0.3250" stop-color="#33F5FF"/><stop offset="0.3500" stop-color="#21FFFA"/><stop offset="0.3750" stop-color="#42FFEA"/><stop offset="0.4000" stop-color="#54FFDB"/><stop offset="0.4250" stop-color="#60FFCB"/><stop offset="0.4500" stop-color="#6AFEBC"/><stop offset="0.4750" stop-color="#71FEAC"/><stop offset="0.5000" stop-color="#76FE9C"/><stop offset="0.5250" stop-color="#7AFE8B"/><stop offset="0.5500" stop-color="#7DFE7A"/><stop offset="0.5750" stop-color="#7FFF68"/><stop offset="0.6000" stop-color="#80FF55"/><stop offset="0.6250" stop-color="#81FF3D"/><stop offset="0.6500" stop-color="#80FF19"/><stop offset="0.6750" stop-color="#91F600"/><stop offset="0.7000" stop-color="#A3E900"/><stop offset="0.7250" stop-color="#B3DB00"/><stop offset="0.7500" stop-color="#C0CE00"/><stop offset="0.7750" stop-color="#CBC000"/><stop offset="0.8000" stop-color="#D5B100"/><stop offset="0.8250" stop-color="#DDA200"/><stop offset="0.8500" stop-color="#E59300"/><stop offset="0.8750" stop-color="#EB8200"/><stop offset="0.9000" stop-color="#F16F00"/><stop offset="0.9250" stop-color="#F75900"/><stop offset="0.9500" stop-color="#FB3D00"/><stop offset="0.9750" stop-color="#FF0000"/><stop offset="1.0000" stop-color="#FF0000"/></linearGradient>
<rect x="577.10" y="595.10" width="11.90" height="60.10" fill="url(#rbC)"/>
<text x="592.80" y="600.06" font-size="8.22">1.00</text>
<line x1="577.10" y1="610.70" x2="579.48" y2="610.70" stroke="#fff" stroke-width="0.5" opacity="0.8"/>
<line x1="586.62" y1="610.70" x2="589.00" y2="610.70" stroke="#fff" stroke-width="0.5" opacity="0.8"/>
<text x="592.80" y="614.06" font-size="8.22">0.75</text>
<line x1="577.10" y1="625.00" x2="579.48" y2="625.00" stroke="#fff" stroke-width="0.5" opacity="0.8"/>
<line x1="586.62" y1="625.00" x2="589.00" y2="625.00" stroke="#fff" stroke-width="0.5" opacity="0.8"/>
<text x="592.80" y="628.36" font-size="8.22">0.50</text>
<line x1="577.10" y1="639.40" x2="579.48" y2="639.40" stroke="#fff" stroke-width="0.5" opacity="0.8"/>
<line x1="586.62" y1="639.40" x2="589.00" y2="639.40" stroke="#fff" stroke-width="0.5" opacity="0.8"/>
<text x="592.80" y="642.76" font-size="8.22">0.25</text>
<text x="592.80" y="656.86" font-size="8.22">0.00</text>
</g>
</svg></body></html>
